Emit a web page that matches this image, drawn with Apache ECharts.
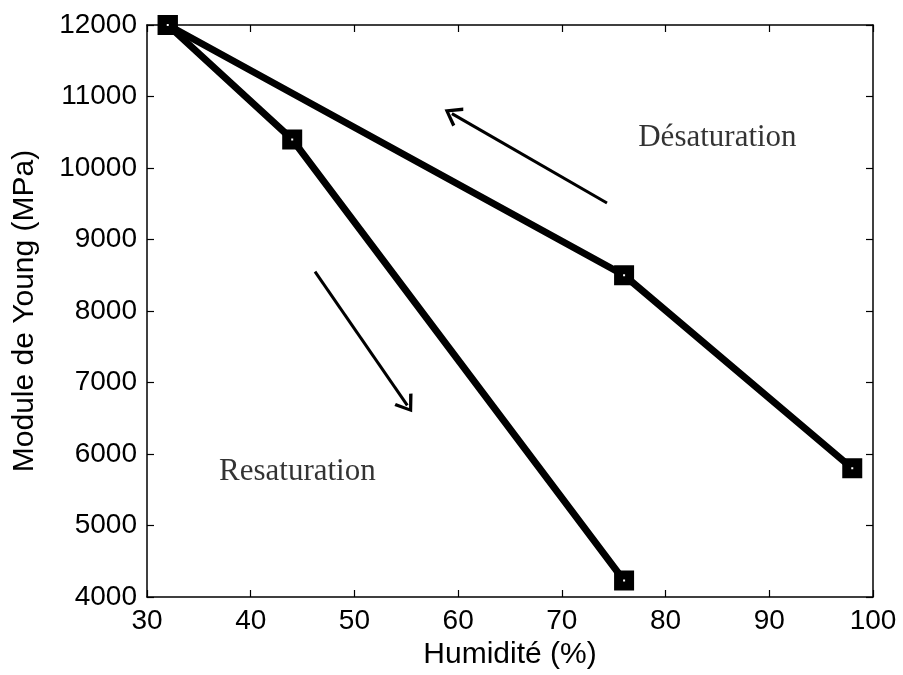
<!DOCTYPE html>
<html><head><meta charset="utf-8">
<script src="https://cdn.jsdelivr.net/npm/echarts@6/dist/echarts.min.js"></script>
<style>html,body{margin:0;padding:0;background:#fff}#c{width:903px;height:675px}</style>
</head><body><div id="c"></div>
<script>
const resatX = [32, 44, 76];
const resatY = [12000, 10400, 4230];
const desatX = [32, 76, 98];
const desatY = [12000, 8500, 5800];
const arrowDesat = [[74.35, 9510], [59.4, 10760]];
const arrowResat = [[46.2, 8550], [55.1, 6680]];
const labels = [{name: 'Désaturation', x: 85, y: 10420}, {name: 'Resaturation', x: 44.5, y: 5750}];
const xTitle = 'Humidité (%)';
const yTitle = 'Module de Young (MPa)';

const chart = echarts.init(document.getElementById('c'));
const axisCommon = {
  axisLine: {show: true, onZero: false, lineStyle: {color: '#000', width: 1.5}},
  axisTick: {show: true, inside: true, length: 7, lineStyle: {color: '#000', width: 1.2}},
  splitLine: {show: false}
};
function pts(xs, ys) { return xs.map((x, i) => [x, ys[i]]); }
const markerStyle = {color: '#fff', borderColor: '#000', borderWidth: 9};
const chevron = 'path://M10,0 L20,14 L17.3,15.6 L10,5 L2.7,15.6 L0,14 Z';
chart.setOption({
  animation: false,
  backgroundColor: '#fff',
  grid: {left: 147, right: 30, top: 25, bottom: 77},
  xAxis: [
    Object.assign({type: 'value', min: 30, max: 100, interval: 10, position: 'bottom',
      name: xTitle, nameLocation: 'middle', nameGap: 43,
      nameTextStyle: {fontFamily: 'Liberation Sans', fontSize: 30, color: '#000'},
      axisLabel: {fontFamily: 'Liberation Sans', fontSize: 28, color: '#000', margin: 10, formatter: v => String(v)}}, axisCommon),
    Object.assign({type: 'value', min: 30, max: 100, interval: 10, position: 'top',
      axisLabel: {show: false}}, axisCommon)
  ],
  yAxis: [
    Object.assign({type: 'value', min: 4000, max: 12000, interval: 1000, position: 'left',
      name: yTitle, nameLocation: 'middle', nameGap: 107, nameRotate: 90,
      nameTextStyle: {fontFamily: 'Liberation Sans', fontSize: 30, color: '#000'},
      axisLabel: {fontFamily: 'Liberation Sans', fontSize: 28, color: '#000', margin: 10, formatter: v => String(v)}}, axisCommon),
    Object.assign({type: 'value', min: 4000, max: 12000, interval: 1000, position: 'right',
      axisLabel: {show: false}}, axisCommon)
  ],
  series: [
    {type: 'line', data: pts(resatX, resatY), symbol: 'rect', symbolSize: 11,
      lineStyle: {color: '#000', width: 7}, itemStyle: markerStyle, z: 3},
    {type: 'line', data: pts(desatX, desatY), symbol: 'rect', symbolSize: 11,
      lineStyle: {color: '#000', width: 7}, itemStyle: markerStyle, z: 3},
    {type: 'line', data: [], silent: true,
      markLine: {silent: true, symbol: ['none', chevron], symbolSize: [22, 17], label: {show: false},
        lineStyle: {color: '#000', width: 3, type: 'solid'},
        data: [
          [{coord: arrowDesat[0]}, {coord: arrowDesat[1]}],
          [{coord: arrowResat[0]}, {coord: arrowResat[1]}]
        ]}},
    {type: 'scatter', symbolSize: 0, data: labels.map(l => ({name: l.name, value: [l.x, l.y]})),
      label: {show: true, position: 'inside', formatter: p => p.name,
        fontFamily: 'Liberation Serif', fontSize: 31, color: '#000'}, silent: true}
  ]
});
</script></body></html>
